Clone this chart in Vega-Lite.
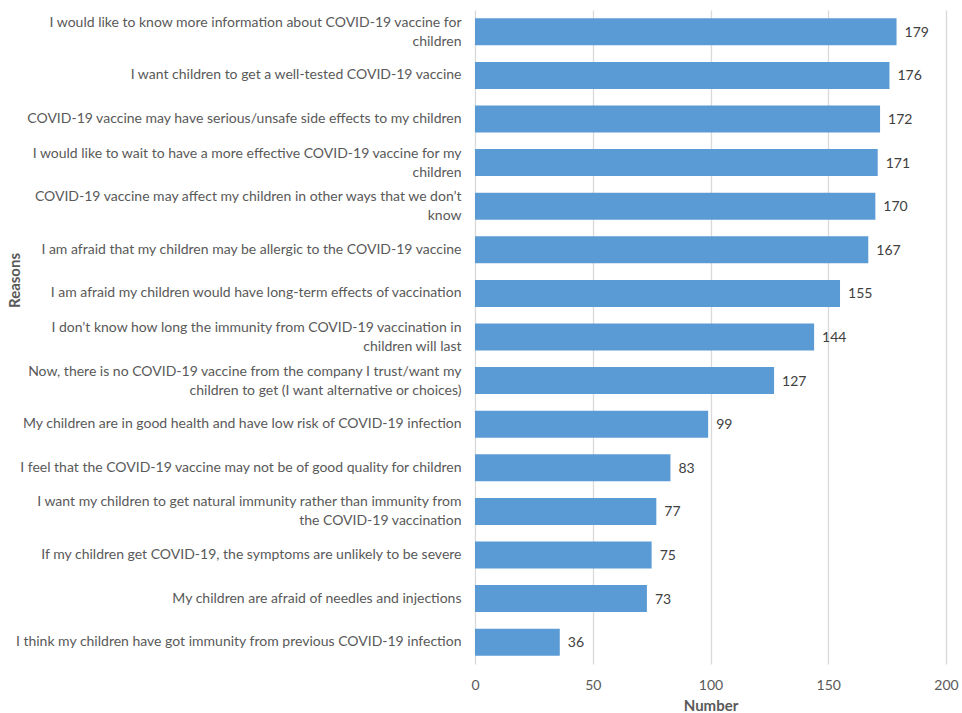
{
  "$schema": "https://vega.github.io/schema/vega-lite/v6.json",
  "width": 471,
  "height": 654,
  "autosize": {"type": "none"},
  "padding": {"left": 475, "top": 10, "right": 16, "bottom": 49},
  "background": "white",
  "data": {
    "values": [
      {"reason": "I would like to know more information about COVID-19 vaccine for|children", "number": 179},
      {"reason": "I want children to get a well-tested COVID-19 vaccine", "number": 176},
      {"reason": "COVID-19 vaccine may have serious/unsafe side effects to my children", "number": 172},
      {"reason": "I would like to wait to have a more effective COVID-19 vaccine for my|children", "number": 171},
      {"reason": "COVID-19 vaccine may affect my children in other ways that we don’t|know", "number": 170},
      {"reason": "I am afraid that my children may be allergic to the COVID-19 vaccine", "number": 167},
      {"reason": "I am afraid my children would have long-term effects of vaccination", "number": 155},
      {"reason": "I don’t know how long the immunity from COVID-19 vaccination in|children will last", "number": 144},
      {"reason": "Now, there is no COVID-19 vaccine from the company I trust/want my|children to get (I want alternative or choices)", "number": 127},
      {"reason": "My children are in good health and have low risk of COVID-19 infection", "number": 99},
      {"reason": "I feel that the COVID-19 vaccine may not be of good quality for children", "number": 83},
      {"reason": "I want my children to get natural immunity rather than immunity from|the COVID-19 vaccination", "number": 77},
      {"reason": "If my children get COVID-19, the symptoms are unlikely to be severe", "number": 75},
      {"reason": "My children are afraid of needles and injections", "number": 73},
      {"reason": "I think my children have got immunity from previous COVID-19 infection", "number": 36}
    ]
  },
  "encoding": {
    "y": {
      "field": "reason",
      "type": "nominal",
      "sort": null,
      "scale": {"paddingInner": 0.38, "paddingOuter": 0.19},
      "axis": {
        "title": "Reasons",
        "labelExpr": "split(datum.label, '|')",
        "labelLimit": 0,
        "labelFont": "Lato",
        "labelFontSize": 14,
        "labelColor": "#595959",
        "labelLineHeight": 19,
        "labelPadding": 14,
        "labelOffset": {"condition": {"test": "indexof(datum.value, '|') >= 0", "value": -9}, "value": 0},
        "ticks": false,
        "domain": false,
        "titleFont": "Lato",
        "titleFontSize": 15,
        "titleFontWeight": "bold",
        "titleColor": "#595959",
        "titleX": -453,
        "titleY": 270,
        "titleAngle": -90,
        "titleAlign": "center",
        "titleBaseline": "bottom"
      }
    },
    "x": {
      "field": "number",
      "type": "quantitative",
      "scale": {"domain": [0, 200]},
      "axis": {
        "title": "Number",
        "values": [0, 50, 100, 150, 200],
        "labelFlush": false,
        "labelFont": "Lato",
        "labelFontSize": 14,
        "labelColor": "#595959",
        "labelPadding": 14,
        "ticks": false,
        "domain": false,
        "gridColor": "#d9d9d9",
        "gridWidth": 1.3,
        "titleFont": "Lato",
        "titleFontSize": 15,
        "titleFontWeight": "bold",
        "titleColor": "#595959",
        "titlePadding": 6
      }
    }
  },
  "layer": [
    {"mark": {"type": "bar", "color": "#5B9BD5"}},
    {
      "mark": {"type": "text", "align": "left", "dx": 8, "dy": 1, "font": "Lato", "fontSize": 14, "color": "#404040"},
      "encoding": {"text": {"field": "number", "type": "quantitative"}}
    }
  ],
  "config": {"view": {"stroke": null}}
}
